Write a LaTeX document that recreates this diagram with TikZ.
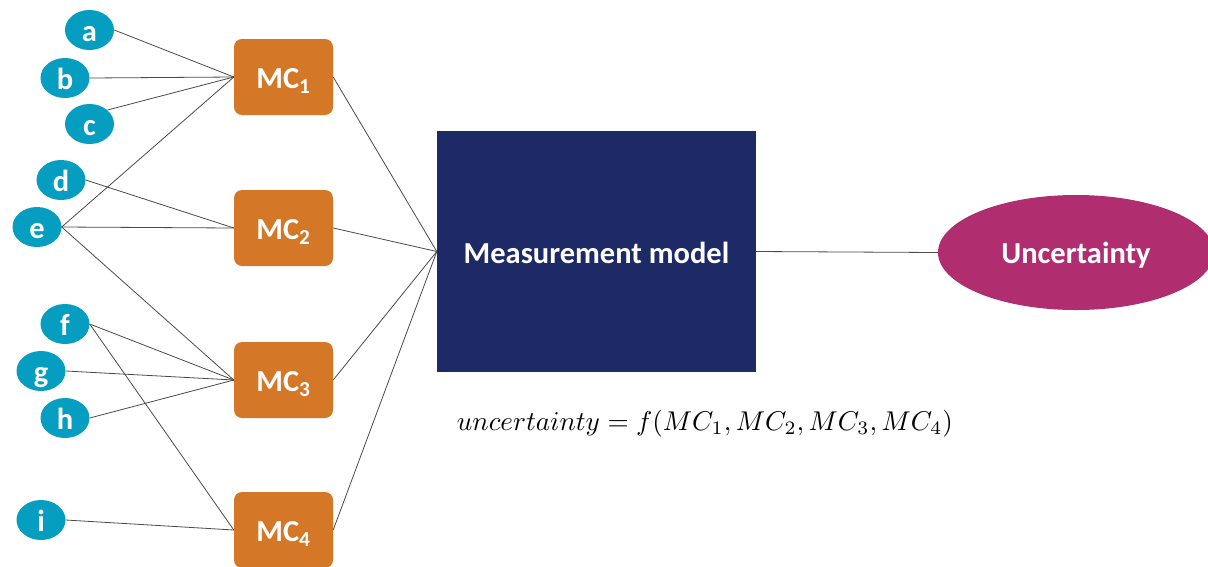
\documentclass[tikz,border=0pt]{standalone}
\usepackage{fontspec}
\usepackage{graphicx}
\setmainfont{Carlito}
\usetikzlibrary{shapes.geometric}
\definecolor{cteal}{HTML}{059DC0}
\definecolor{corange}{HTML}{D47828}
\definecolor{cnavy}{HTML}{1E2A66}
\definecolor{cmag}{HTML}{B02D70}
\definecolor{clink}{HTML}{4A4A4A}
\begin{document}
\begin{tikzpicture}[x=1pt,y=-1pt,
  bigfont/.style={font=\bfseries\fontsize{30.5}{32}\selectfont},
  inp/.style={ellipse, fill=cteal, minimum width=49pt, minimum height=40pt, inner sep=0pt, text=white, bigfont, text height=22pt, text depth=0pt},
  mcbox/.style={rectangle, rounded corners=8pt, fill=corange, minimum width=99pt, minimum height=76pt, inner sep=0pt, text=white, bigfont, text height=22pt, text depth=0pt},
  link/.style={draw=clink, line width=0.8pt}]
\useasboundingbox (0,0) rectangle (1208,566);
\clip (0,0) rectangle (1208,566);
% inputs
\node[inp] (a) at (89.5,30) {a};
\node[inp] (b) at (65,78) {b};
\node[inp] (c) at (89.5,124) {c};
\node[inp] (d) at (61,180) {d};
\node[inp] (e) at (37,227) {e};
\node[inp] (f) at (65,324) {f};
\node[inp] (g) at (41,371) {g};
\node[inp] (h) at (65,418) {h};
\node[inp] (i) at (41,520) {i};
% MC boxes
\node[mcbox] (mc1) at (283.5,77) {MC\textsubscript{1}};
\node[mcbox] (mc2) at (283.5,228) {MC\textsubscript{2}};
\node[mcbox] (mc3) at (283.5,380) {MC\textsubscript{3}};
\node[mcbox] (mc4) at (283.5,530) {MC\textsubscript{4}};
% measurement model
\node[rectangle, fill=cnavy, minimum width=319pt, minimum height=241pt, inner sep=0pt, text=white, bigfont, text height=24pt, text depth=0pt] (mm) at (596.5,251.5) {Measurement model};
% uncertainty
\node[ellipse, fill=cmag, minimum width=276pt, minimum height=115pt, inner sep=0pt, text=white, bigfont, text height=21pt, text depth=0pt] (unc) at (1076,252.5) {Uncertainty};
% formula
\node[inner sep=0pt] (formula) at (705,424) {\resizebox{496pt}{!}{$uncertainty = f(MC_1, MC_2, MC_3, MC_4)$}};
% links
\draw[link] (a.east) -- (mc1.west);
\draw[link] (b.east) -- (mc1.west);
\draw[link] (c.38) -- (mc1.west);
\draw[link] (e.east) -- (mc1.west);
\draw[link] (d.east) -- (mc2.west);
\draw[link] (e.east) -- (mc2.west);
\draw[link] (e.east) -- (mc3.west);
\draw[link] (f.east) -- (mc3.west);
\draw[link] (g.east) -- (mc3.west);
\draw[link] (h.east) -- (mc3.west);
\draw[link] (f.east) -- (mc4.west);
\draw[link] (i.east) -- (mc4.west);
\draw[link] (mc1.east) -- (mm.west);
\draw[link] (mc2.east) -- (mm.west);
\draw[link] (mc3.east) -- (mm.west);
\draw[link] (mc4.east) -- (mm.west);
\draw[link] (mm.east) -- (unc.west);
\end{tikzpicture}
\end{document}
